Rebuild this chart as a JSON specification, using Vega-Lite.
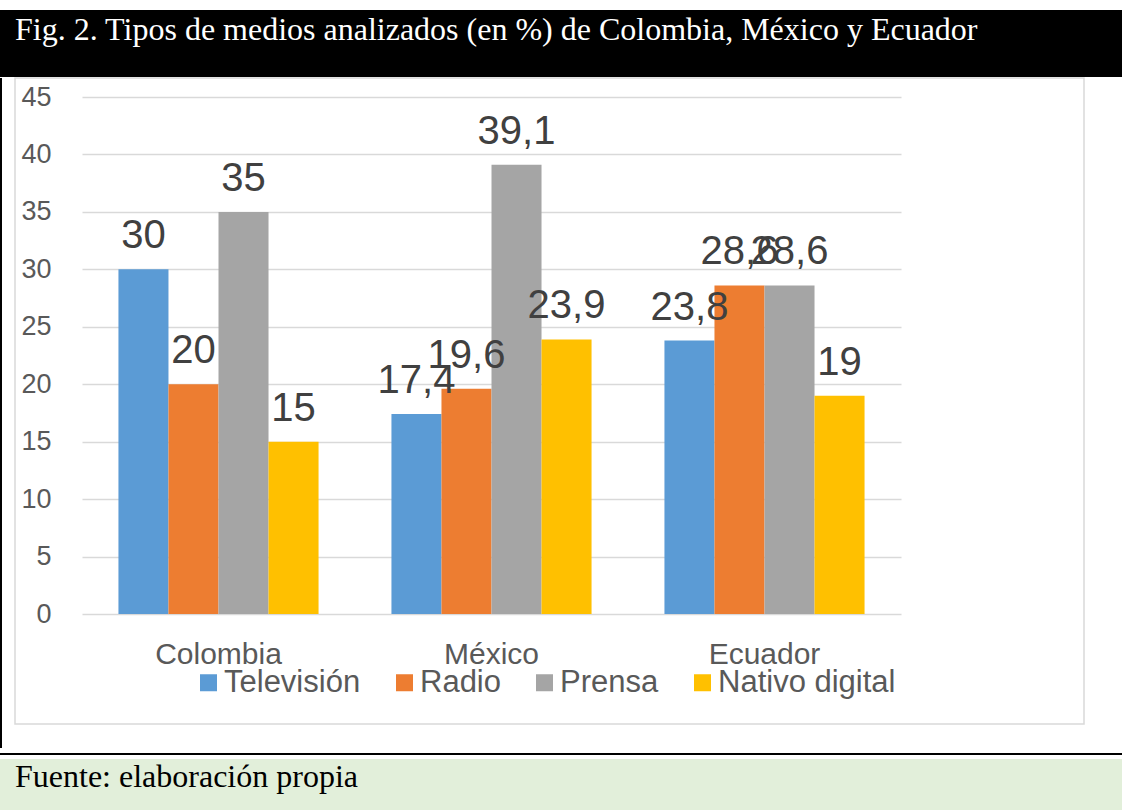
{
  "$schema": "https://vega.github.io/schema/vega-lite/v6.json",
  "padding": {"top": 10, "left": 0, "right": 0, "bottom": 0},
  "background": "#ffffff",
  "spacing": 0,
  "config": {
    "view": {"stroke": null},
    "locale": {"number": {"decimal": ",", "thousands": ".", "grouping": [3], "currency": ["", " €"]}}
  },
  "vconcat": [
    {
      "width": 1122,
      "height": 67,
      "view": {"fill": "#000000", "stroke": null},
      "title": {
        "text": "Fig. 2. Tipos de medios analizados (en %) de Colombia, México y Ecuador",
        "anchor": "start",
        "frame": "group",
        "orient": "top",
        "offset": -62,
        "baseline": "alphabetic",
        "dx": 15,
        "font": "Liberation Serif",
        "fontSize": 32,
        "fontWeight": "normal",
        "color": "#ffffff"
      },
      "data": {"values": [{}]},
      "mark": {"type": "text", "text": ""},
      "encoding": {}
    },
    {
      "spacing": 12,
      "hconcat": [
        {
          "width": 2,
          "height": 670,
          "view": {"fill": "#000000", "stroke": null},
          "data": {"values": [{}]},
          "mark": {"type": "text", "text": ""},
          "encoding": {}
        },
        {
          "width": 1069,
          "height": 646,
          "view": {"fill": "#ffffff", "stroke": "#D9D9D9", "strokeWidth": 1.5},
          "data": {
            "values": [
              {"pais": "Colombia", "medio": "Televisión", "valor": 30},
              {"pais": "Colombia", "medio": "Radio", "valor": 20},
              {"pais": "Colombia", "medio": "Prensa", "valor": 35},
              {"pais": "Colombia", "medio": "Nativo digital", "valor": 15},
              {"pais": "México", "medio": "Televisión", "valor": 17.4},
              {"pais": "México", "medio": "Radio", "valor": 19.6},
              {"pais": "México", "medio": "Prensa", "valor": 39.1},
              {"pais": "México", "medio": "Nativo digital", "valor": 23.9},
              {"pais": "Ecuador", "medio": "Televisión", "valor": 23.8},
              {"pais": "Ecuador", "medio": "Radio", "valor": 28.6},
              {"pais": "Ecuador", "medio": "Prensa", "valor": 28.6},
              {"pais": "Ecuador", "medio": "Nativo digital", "valor": 19}
            ]
          },
          "encoding": {
            "x": {
              "field": "pais",
              "type": "nominal",
              "sort": ["Colombia", "México", "Ecuador"],
              "scale": {"range": [67, 886], "paddingInner": 0.267, "paddingOuter": 0.1335},
              "axis": {
                "orient": "bottom",
                "offset": -110,
                "labelPadding": 25,
                "tickSize": 0,
                "ticks": false,
                "domain": false,
                "grid": false,
                "title": null,
                "labelAngle": 0,
                "labelFont": "Liberation Sans",
                "labelFontSize": 30,
                "labelColor": "#595959"
              }
            },
            "xOffset": {
              "field": "medio",
              "type": "nominal",
              "sort": ["Televisión", "Radio", "Prensa", "Nativo digital"],
              "scale": {"paddingInner": 0, "paddingOuter": 0}
            },
            "y": {
              "field": "valor",
              "type": "quantitative",
              "scale": {"domain": [0, 45], "range": [536, 19], "nice": false},
              "axis": {
                "values": [0, 5, 10, 15, 20, 25, 30, 35, 40, 45],
                "offset": -36,
                "labelPadding": 0,
                "tickSize": 0,
                "ticks": false,
                "domain": false,
                "title": null,
                "grid": true,
                "gridColor": "#D9D9D9",
                "gridWidth": 1.5,
                "labelFlush": false,
                "labelFont": "Liberation Sans",
                "labelFontSize": 27,
                "labelColor": "#595959"
              }
            }
          },
          "layer": [
            {
              "mark": {"type": "bar"},
              "encoding": {
                "color": {
                  "field": "medio",
                  "type": "nominal",
                  "scale": {
                    "domain": ["Televisión", "Radio", "Prensa", "Nativo digital"],
                    "range": ["#5B9BD5", "#ED7D31", "#A5A5A5", "#FFC000"]
                  },
                  "legend": {
                    "orient": "none",
                    "legendX": 193,
                    "legendY": 657,
                    "direction": "horizontal",
                    "title": null,
                    "padding": 0,
                    "symbolType": "square",
                    "symbolSize": 289,
                    "symbolStrokeWidth": 0,
                    "symbolOpacity": 1,
                    "labelFont": "Liberation Sans",
                    "labelFontSize": 31,
                    "labelColor": "#595959",
                    "labelOffset": 0,
                    "labelLimit": 400,
                    "columnPadding": 28
                  }
                }
              }
            },
            {
              "mark": {
                "type": "text",
                "baseline": "alphabetic",
                "dy": -21,
                "font": "Liberation Sans",
                "fontSize": 40,
                "color": "#404040"
              },
              "encoding": {
                "text": {"field": "valor", "type": "quantitative", "format": ".1~f"}
              }
            }
          ]
        }
      ]
    },
    {
      "width": 1122,
      "height": 2,
      "view": {"fill": "#000000", "stroke": null},
      "data": {"values": [{}]},
      "mark": {"type": "text", "text": ""},
      "encoding": {}
    },
    {
      "width": 1122,
      "height": 56,
      "view": {"fill": "#E2EFDA", "stroke": null},
      "title": {
        "text": "Fuente: elaboración propia",
        "anchor": "start",
        "frame": "group",
        "orient": "top",
        "offset": -60,
        "baseline": "alphabetic",
        "dx": 15,
        "font": "Liberation Serif",
        "fontSize": 32,
        "fontWeight": "normal",
        "color": "#000000"
      },
      "data": {"values": [{}]},
      "mark": {"type": "text", "text": ""},
      "encoding": {}
    }
  ]
}
